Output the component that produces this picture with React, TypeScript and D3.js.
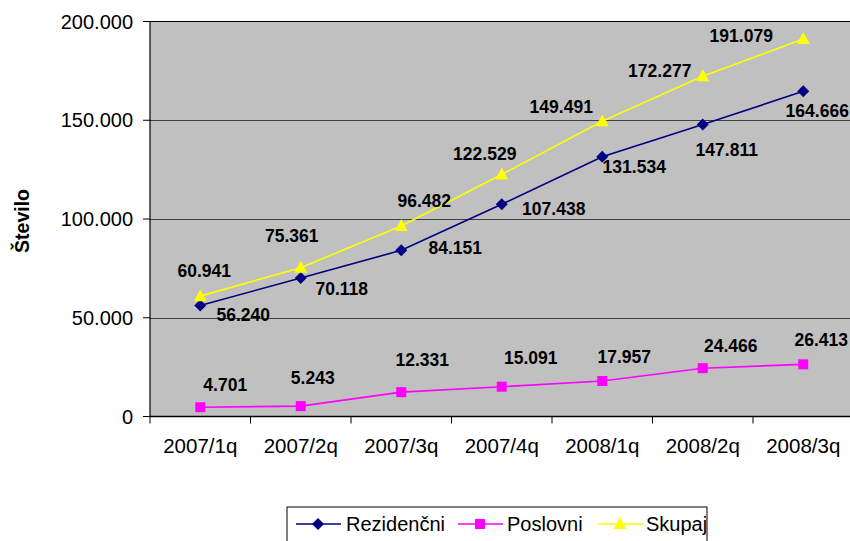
import React, { useEffect, useRef } from "react";
import * as d3 from "d3";

const categories = ["2007/1q", "2007/2q", "2007/3q", "2007/4q", "2008/1q", "2008/2q", "2008/3q"];
const rezidencni = [56240, 70118, 84151, 107438, 131534, 147811, 164666];
const poslovni = [4701, 5243, 12331, 15091, 17957, 24466, 26413];
const skupaj = [60941, 75361, 96482, 122529, 149491, 172277, 191079];
const yTicks = [0, 50000, 100000, 150000, 200000];

// label offsets (dx, dy) relative to each point
const rezOffsets = [[43, 9], [41, 11], [54, -3], [52, 4], [32, 10], [24, 25], [14, 19]];
const posOffsets = [[25, -23], [12, -28], [21, -32], [29, -29], [22, -24], [28, -22], [18, -25]];
const skuOffsets = [[4, -25], [-9, -32], [23, -25], [-17, -21], [-41, -15], [-43, -6], [-62, -3]];

const fmt = (v: number) => d3.format(",")(v).replace(/,/g, ".");

export default function App() {
  const ref = useRef<SVGSVGElement>(null);
  useEffect(() => {
    const svg = d3.select(ref.current);
    svg.selectAll("*").remove();
    const left = 150, right = 853.5, top = 21.5, bottom = 416.5;
    const x = d3.scaleBand().domain(categories).range([left, right]);
    const cx = (c: string) => (x(c) as number) + x.bandwidth() / 2;
    const y = d3.scaleLinear().domain([0, 200000]).range([bottom, top]);
    const font = "Liberation Sans, Arial, sans-serif";

    svg.append("rect").attr("x", left).attr("y", top).attr("width", right - left).attr("height", bottom - top).attr("fill", "#C0C0C0");
    yTicks.filter(t => t > 0 && t < 200000).forEach(t => {
      svg.append("line").attr("x1", left).attr("x2", right).attr("y1", Math.round(y(t)) + 0.5).attr("y2", Math.round(y(t)) + 0.5).attr("stroke", "#404040").attr("stroke-width", 1);
    });
    svg.append("line").attr("x1", left).attr("x2", right).attr("y1", top).attr("y2", top).attr("stroke", "#000").attr("stroke-width", 1.2);
    svg.append("line").attr("x1", left).attr("x2", left).attr("y1", top).attr("y2", bottom).attr("stroke", "#000").attr("stroke-width", 1.2);
    yTicks.forEach(t => {
      svg.append("line").attr("x1", left - 7).attr("x2", left).attr("y1", y(t)).attr("y2", y(t)).attr("stroke", "#000");
      svg.append("text").attr("x", 133).attr("y", y(t)).attr("dy", "0.36em").attr("text-anchor", "end")
        .attr("font-family", font).attr("font-size", 20).attr("fill", "#000").text(fmt(t));
    });
    svg.append("line").attr("x1", left).attr("x2", right).attr("y1", bottom).attr("y2", bottom).attr("stroke", "#000").attr("stroke-width", 1.5);
    categories.forEach((c) => {
      const xb = x(c) as number;
      svg.append("line").attr("x1", xb).attr("x2", xb).attr("y1", bottom).attr("y2", bottom + 7).attr("stroke", "#000");
      svg.append("text").attr("x", cx(c)).attr("y", 453).attr("text-anchor", "middle")
        .attr("font-family", font).attr("font-size", 20.5).attr("fill", "#000").text(c);
    });
    svg.append("text").attr("transform", `translate(29,221) rotate(-90)`).attr("text-anchor", "middle")
      .attr("font-family", font).attr("font-size", 19.5).attr("font-weight", "bold").text("Število");

    const series = [
      { name: "Rezidenčni", data: rezidencni, color: "#000080", off: rezOffsets, kind: "diamond" },
      { name: "Poslovni", data: poslovni, color: "#FF00FF", off: posOffsets, kind: "square" },
      { name: "Skupaj", data: skupaj, color: "#FFFF00", off: skuOffsets, kind: "triangle" },
    ];
    const marker = (g: any, kind: string, px: number, py: number, color: string) => {
      if (kind === "diamond") {
        g.append("path").attr("d", `M${px},${py - 6}L${px + 6},${py}L${px},${py + 6}L${px - 6},${py}Z`).attr("fill", color);
      } else if (kind === "square") {
        g.append("rect").attr("x", px - 5).attr("y", py - 5).attr("width", 10).attr("height", 10).attr("fill", color);
      } else {
        g.append("path").attr("d", `M${px},${py - 7}L${px + 6.5},${py + 5}L${px - 6.5},${py + 5}Z`).attr("fill", color);
      }
    };
    const line = d3.line<number>().x((_, i) => cx(categories[i])).y(d => y(d));
    series.forEach(s => {
      svg.append("path").attr("d", line(s.data) as string).attr("fill", "none").attr("stroke", s.color).attr("stroke-width", 1.6);
      s.data.forEach((v, i) => marker(svg, s.kind, cx(categories[i]), y(v), s.color));
    });
    series.forEach(s => {
      s.data.forEach((v, i) => {
        svg.append("text").attr("x", cx(categories[i]) + s.off[i][0]).attr("y", y(v) + s.off[i][1]).attr("dy", "0.36em")
          .attr("text-anchor", "middle").attr("font-family", font).attr("font-size", 17.5).attr("font-weight", "bold").attr("fill", "#000").text(fmt(v));
      });
    });
    const lg = svg.append("g");
    lg.append("rect").attr("x", 287).attr("y", 507).attr("width", 420).attr("height", 45).attr("fill", "#fff").attr("stroke", "#000").attr("stroke-width", 1);
    const legendItems = [
      { s: series[0], x0: 296, tx: 346 },
      { s: series[1], x0: 458, tx: 507 },
      { s: series[2], x0: 598, tx: 646 },
    ];
    legendItems.forEach(({ s, x0, tx }) => {
      lg.append("line").attr("x1", x0).attr("x2", x0 + 45).attr("y1", 524).attr("y2", 524).attr("stroke", s.color).attr("stroke-width", 1.6);
      marker(lg, s.kind, x0 + 22, 524, s.color);
      lg.append("text").attr("x", tx).attr("y", 524).attr("dy", "0.36em").attr("font-family", font).attr("font-size", 20).attr("fill", "#000").text(s.name);
    });
  }, []);
  return (
    <svg ref={ref} width={850} height={541} style={{ position: "absolute", left: 0, top: 0, background: "#fff" }} />
  );
}
